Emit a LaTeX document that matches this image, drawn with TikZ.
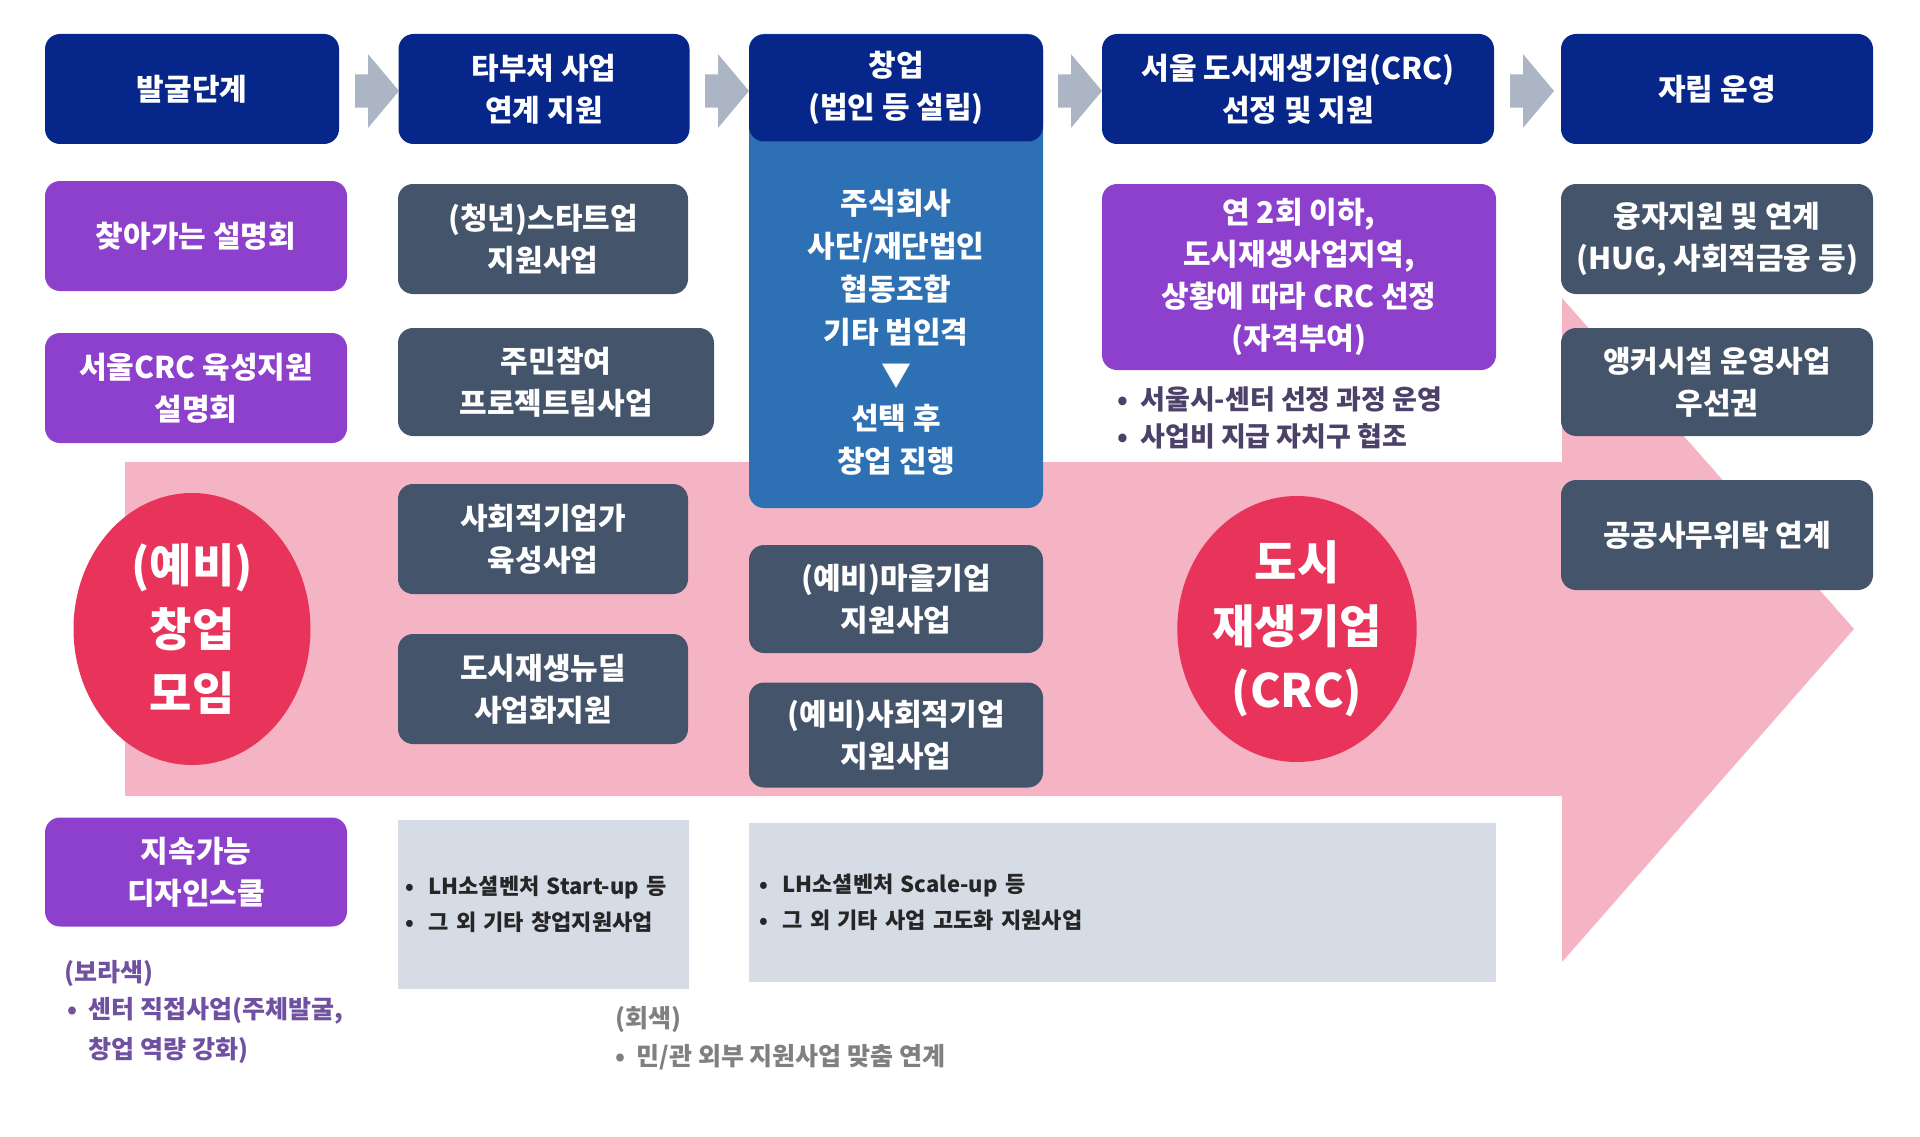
\documentclass[tikz,border=0pt]{standalone}
\usepackage{fontspec}
\setmainfont{Noto Sans CJK KR}
\usetikzlibrary{shapes.arrows,shapes.geometric}

\definecolor{navy}{RGB}{6,38,138}
\definecolor{corpblue}{RGB}{46,112,180}
\definecolor{purp}{RGB}{140,64,204}
\definecolor{slate}{RGB}{68,84,106}
\definecolor{flowpink}{RGB}{245,180,196}
\definecolor{crimson}{RGB}{232,52,90}
\definecolor{chevgray}{RGB}{172,181,196}
\definecolor{lightgray}{RGB}{214,220,229}
\definecolor{notepurp}{RGB}{112,80,160}
\definecolor{notegray}{RGB}{128,128,128}
\definecolor{bulletdark}{RGB}{75,65,105}

\begin{document}
\begin{tikzpicture}[x=1pt, y=-1pt,
    box/.style={rectangle, rounded corners=15pt, text=white, align=center, inner sep=2pt,
        font=\fontsize{30}{42}\selectfont\bfseries},
    hdr/.style={box, fill=navy, minimum height=110pt},
    purpbox/.style={box, fill=purp, minimum width=302pt, minimum height=110pt},
    slatebox/.style={box, fill=slate, minimum height=110pt},
    circ/.style={ellipse, fill=crimson, text=white, align=center, inner sep=0pt,
        font=\fontsize{46}{64}\selectfont\bfseries},
    chev/.style={single arrow, fill=chevgray, minimum height=44pt, inner xsep=0pt, inner ysep=16.5pt,
        single arrow head extend=20pt, single arrow tip angle=100},
    graybox/.style={rectangle, fill=lightgray, align=left, text=black!85,
        font=\fontsize{22}{36}\selectfont\bfseries},
    note/.style={anchor=west, align=left, inner sep=0pt, font=\fontsize{25}{40}\selectfont\bfseries}
]
\useasboundingbox (0,0) rectangle (1920,1137);

% 큰 화살표 (배경)
\fill[flowpink] (125,462) -- (1562,462) -- (1562,298) -- (1854,629) -- (1562,962)
    -- (1562,796) -- (125,796) -- cycle;

% 창업 열 (파란 상자)
\node[box, fill=corpblue, minimum width=294pt, minimum height=474pt] (corp) at (896,271) {};
\node[box, font=\fontsize{30}{43}\selectfont\bfseries] (corptext) at (896,332)
    {주식회사\\사단/재단법인\\협동조합\\기타 법인격\\▼\\선택 후\\창업 진행};

% 단계 제목
\node[hdr, minimum width=294pt] (h1) at (192,89) {발굴단계};
\node[hdr, minimum width=291pt] (h2) at (544,89) {타부처 사업\\연계 지원};
\node[hdr, minimum width=294pt, minimum height=107pt] (h3) at (896,88) {창업\\(법인 등 설립)};
\node[hdr, minimum width=392pt] (h4) at (1298,89) {서울 도시재생기업(CRC)\\선정 및 지원};
\node[hdr, minimum width=312pt] (h5) at (1717,89) {자립 운영};

% 단계 사이 화살표
\node[chev] (c12) at (370,91) {};
\node[chev] (c23) at (720,91) {};
\node[chev] (c34) at (1073,91) {};
\node[chev] (c45) at (1525,91) {};

% 발굴단계 (보라색)
\node[purpbox] (p1) at (196,236) {찾아가는 설명회};
\node[purpbox] (p2) at (196,388) {서울CRC 육성지원\\설명회};
\node[purpbox, minimum height=109pt] (p3) at (196,872) {지속가능\\디자인스쿨};

% 타부처 사업 연계
\node[slatebox, minimum width=290pt] (s1) at (543,239) {(청년)스타트업\\지원사업};
\node[slatebox, minimum width=316pt, minimum height=108pt] (s2) at (556,382) {주민참여\\프로젝트팀사업};
\node[slatebox, minimum width=290pt] (s3) at (543,539) {사회적기업가\\육성사업};
\node[slatebox, minimum width=290pt] (s4) at (543,689) {도시재생뉴딜\\사업화지원};

% 창업 아래
\node[slatebox, minimum width=294pt, minimum height=108pt] (s5) at (896,599) {(예비)마을기업\\지원사업};
\node[slatebox, minimum width=294pt, minimum height=105pt] (s6) at (896,735) {(예비)사회적기업\\지원사업};

% CRC 선정
\node[box, fill=purp, minimum width=394pt, minimum height=186pt] (pc) at (1299,277)
    {연 2회 이하,\\도시재생사업지역,\\상황에 따라 CRC 선정\\(자격부여)};
\node[note, text=bulletdark, font=\fontsize{27}{37}\selectfont\bfseries] (pcnote) at (1117,418)
    {•\ \ 서울시-센터 선정 과정 운영\\•\ \ 사업비 지급 자치구 협조};

% 자립 운영
\node[slatebox, minimum width=312pt] (r1) at (1717,239) {융자지원 및 연계\\(HUG, 사회적금융 등)};
\node[slatebox, minimum width=312pt, minimum height=108pt] (r2) at (1717,382) {앵커시설 운영사업\\우선권};
\node[slatebox, minimum width=312pt] (r3) at (1717,535) {공공사무위탁 연계};

% 원
\node[circ, minimum width=237pt, minimum height=272pt] (e1) at (192,629) {(예비)\\창업\\모임};
\node[circ, minimum width=239pt, minimum height=266pt] (e2) at (1297,629) {도시\\재생기업\\(CRC)};

% 회색 상자
\node[graybox, minimum width=291pt, minimum height=169pt, text width=277pt, inner xsep=7pt] (g1)
    at (543.5,904.5) {•\ \ LH소셜벤처 Start-up 등\\•\ \ 그 외 기타 창업지원사업};
\node[graybox, minimum width=747pt, minimum height=159pt, text width=727pt, inner xsep=10pt] (g2)
    at (1122.5,902.5) {•\ \ LH소셜벤처 Scale-up 등\\•\ \ 그 외 기타 사업 고도화 지원사업};

% 범례
\node[note, text=notepurp] (nv1) at (64,973) {(보라색)};
\node[note, text=notepurp] (nv2) at (67,1030) {•\ \ 센터 직접사업(주체발굴,\\\phantom{•\ \ }창업 역량 강화)};
\node[note, text=notegray] (ng1) at (615,1020) {(회색)};
\node[note, text=notegray] (ng2) at (615,1057) {•\ \ 민/관 외부 지원사업 맞춤 연계};
\end{tikzpicture}
\end{document}
